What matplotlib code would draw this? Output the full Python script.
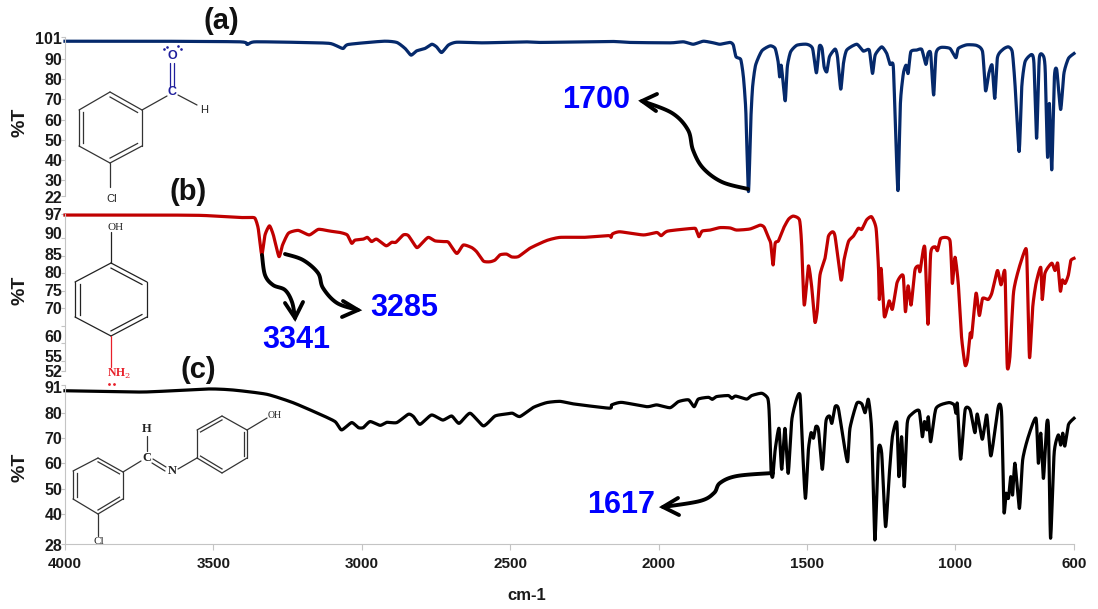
import numpy as np
import matplotlib
matplotlib.use('Agg')
import matplotlib.pyplot as plt

# Spectrum (a) 3-chlorobenzaldehyde
a_wn = [4000, 3700, 3410, 3386, 3360, 3208, 3107, 3064, 3045, 2927, 2882, 2854, 2834, 2815, 2787, 2764, 2748, 2731,
        2708, 2680, 2590, 2456, 2394, 2164, 2096, 1961, 1916, 1883, 1849, 1815, 1793, 1759, 1748, 1739, 1723, 1714,
        1706, 1697, 1689, 1683, 1673, 1652, 1624, 1607, 1597, 1592, 1587, 1582, 1573, 1566, 1555, 1534, 1501, 1481,
        1468, 1458, 1449, 1442, 1433, 1424, 1405, 1397, 1386, 1377, 1366, 1332, 1310, 1290, 1279, 1270, 1248, 1231,
        1220, 1209, 1201, 1193, 1185, 1175, 1166, 1159, 1150, 1130, 1113, 1099, 1092, 1083, 1073, 1065, 1049, 1018,
        998, 990, 962, 928, 908, 898, 887, 876, 867, 858, 838, 821, 808, 799, 785, 776, 765, 743, 735, 726, 717, 703,
        697, 689, 683, 675, 666, 658, 645, 634, 619, 600]
a_t = [98.9, 98.9, 98.6, 97.3, 98.6, 98.3, 97.8, 95.3, 97.3, 98.9, 98.3, 95.3, 92.0, 94.1, 95.3, 97.4, 96.1, 93.3,
       97.0, 98.4, 98.1, 98.6, 98.3, 98.8, 98.3, 98.1, 98.6, 97.4, 98.9, 98.1, 97.4, 98.3, 97.0, 91.2, 89.8, 81.2,
       64.7, 24.2, 59.8, 76.3, 87.0, 94.1, 96.6, 95.3, 88.7, 81.2, 87.0, 81.2, 69.3, 86.2, 93.6, 96.9, 97.4, 95.3,
       83.2, 96.4, 95.3, 86.2, 83.7, 91.2, 95.0, 91.2, 75.1, 87.8, 94.5, 97.4, 94.0, 94.5, 82.9, 92.0, 96.1, 92.8,
       87.4, 86.5, 53.2, 24.7, 68.0, 82.9, 87.0, 82.9, 93.6, 94.5, 94.8, 87.4, 92.8, 92.8, 72.2, 92.8, 95.8, 95.3,
       90.7, 95.3, 97.1, 96.8, 93.6, 74.3, 82.9, 87.0, 70.5, 90.8, 95.0, 96.1, 93.6, 78.0, 44.1, 76.3, 88.7, 92.3,
       87.9, 50.7, 90.3, 91.5, 84.6, 41.2, 68.0, 35.0, 81.2, 84.6, 65.0, 82.9, 90.3, 92.8]

# Spectrum (b) 4-aminophenol
b_wn = [4000, 3700, 3540, 3410, 3377, 3360, 3349, 3337, 3326, 3311, 3298, 3279, 3267, 3247, 3214, 3177, 3146, 3107,
        3073, 3049, 3034, 3023, 2995, 2981, 2967, 2950, 2918, 2899, 2885, 2860, 2843, 2815, 2798, 2776, 2753, 2725,
        2708, 2680, 2658, 2630, 2613, 2590, 2568, 2551, 2534, 2512, 2495, 2472, 2433, 2377, 2332, 2253, 2169, 2160,
        2155, 2130, 2051, 2006, 1991, 1969, 1883, 1874, 1864, 1853, 1826, 1793, 1759, 1737, 1692, 1658, 1644, 1630,
        1622, 1614, 1607, 1596, 1579, 1562, 1546, 1525, 1518, 1509, 1495, 1484, 1473, 1465, 1456, 1439, 1428, 1414,
        1405, 1385, 1375, 1360, 1343, 1327, 1315, 1299, 1282, 1267, 1259, 1256, 1250, 1239, 1223, 1212, 1197, 1184,
        1175, 1168, 1159, 1149, 1136, 1124, 1119, 1108, 1102, 1092, 1083, 1068, 1060, 1049, 1018, 1010, 1001, 990,
        979, 967, 959, 950, 945, 930, 919, 908, 889, 877, 858, 846, 836, 832, 825, 816, 804, 787, 765, 759, 750, 739,
        728, 712, 707, 698, 675, 664, 655, 646, 639, 630, 619, 611, 600]
b_t = [96.7, 96.7, 96.6, 96.0, 96.0, 95.8, 92.9, 85.3, 91.0, 93.6, 91.0, 84.8, 88.1, 91.5, 92.3, 91.0, 92.6, 92.1,
       91.7, 91.0, 88.6, 89.5, 89.8, 90.3, 89.1, 89.8, 87.9, 88.9, 88.9, 91.0, 90.8, 87.4, 88.6, 90.3, 89.3, 89.1,
       88.9, 85.7, 88.1, 87.4, 86.2, 83.5, 83.3, 83.8, 85.3, 85.5, 84.7, 84.8, 87.2, 89.4, 90.3, 90.3, 90.8, 90.3,
       91.3, 91.9, 91.0, 91.7, 90.8, 92.1, 92.9, 92.6, 90.5, 92.1, 92.4, 93.1, 93.0, 92.4, 92.7, 93.8, 93.2, 90.3,
       88.6, 82.4, 88.6, 89.3, 92.9, 95.5, 96.4, 95.3, 88.6, 70.9, 82.1, 76.2, 66.0, 69.5, 79.5, 84.3, 90.5, 91.9,
       90.5, 78.1, 83.8, 89.1, 90.7, 92.9, 92.6, 95.3, 96.2, 92.9, 81.9, 72.5, 81.4, 67.6, 72.1, 69.7, 77.1, 79.2,
       79.0, 69.0, 76.4, 70.9, 80.9, 82.1, 80.5, 86.7, 86.7, 65.4, 85.7, 87.6, 86.5, 90.0, 89.4, 77.1, 84.6, 77.1,
       61.8, 53.7, 55.2, 62.8, 61.8, 74.3, 67.9, 72.8, 72.5, 74.3, 80.8, 76.7, 80.5, 79.0, 53.4, 56.1, 74.3, 81.0,
       86.7, 84.8, 55.9, 70.4, 77.1, 81.7, 72.5, 80.0, 82.9, 80.8, 82.9, 74.9, 78.1, 77.1, 79.5, 83.6, 84.3]

# Spectrum (c) Schiff base
c_wn = [4000, 3737, 3522, 3434, 3320, 3232, 3141, 3090, 3068, 3034, 3012, 2995, 2972, 2938, 2916, 2882, 2843, 2826,
        2804, 2765, 2727, 2697, 2672, 2635, 2590, 2551, 2512, 2492, 2467, 2422, 2377, 2332, 2287, 2166, 2158, 2124,
        2040, 2006, 1961, 1933, 1899, 1880, 1866, 1832, 1819, 1804, 1765, 1753, 1740, 1703, 1686, 1652, 1632, 1627,
        1621, 1615, 1607, 1594, 1585, 1574, 1563, 1551, 1534, 1523, 1515, 1505, 1495, 1486, 1478, 1470, 1461, 1448,
        1436, 1424, 1416, 1405, 1394, 1377, 1363, 1355, 1332, 1315, 1304, 1293, 1282, 1271, 1259, 1248, 1235, 1223,
        1212, 1197, 1190, 1181, 1172, 1162, 1147, 1122, 1111, 1104, 1096, 1091, 1083, 1065, 1023, 1004, 998, 993, 982,
        967, 950, 934, 926, 909, 894, 880, 855, 844, 836, 829, 821, 813, 807, 799, 784, 773, 754, 728, 720, 712, 703,
        692, 686, 679, 667, 653, 645, 638, 631, 619, 600]
c_t = [88.8, 88.3, 89.5, 89.1, 87.4, 84.1, 79.5, 76.6, 73.3, 76.2, 74.2, 74.2, 76.6, 75.1, 76.3, 76.2, 79.5, 78.6,
       75.5, 79.2, 77.2, 78.8, 75.9, 79.9, 74.9, 78.8, 79.6, 79.9, 78.6, 82.2, 84.1, 84.6, 83.6, 81.9, 83.2, 84.2,
       82.5, 83.2, 82.1, 84.5, 85.2, 82.5, 85.5, 86.2, 85.4, 86.5, 86.9, 85.8, 86.7, 85.5, 86.9, 87.8, 85.8, 79.9,
       57.4, 54.8, 65.4, 73.9, 57.7, 73.9, 56.1, 77.2, 85.8, 86.9, 66.7, 46.2, 65.4, 72.2, 70.0, 74.6, 73.3, 57.7,
       76.6, 78.8, 75.9, 82.5, 81.8, 69.3, 60.7, 73.9, 83.8, 83.6, 80.1, 85.4, 73.3, 29.7, 65.4, 64.0, 35.0, 54.8,
       70.6, 76.2, 54.8, 70.6, 50.8, 75.9, 79.5, 80.9, 70.6, 76.6, 73.3, 78.5, 68.6, 81.8, 84.1, 83.2, 79.9, 83.6,
       61.7, 81.2, 81.2, 72.2, 79.6, 69.6, 79.2, 63.0, 82.5, 79.9, 41.0, 48.2, 46.2, 54.8, 47.5, 60.1, 42.2, 61.4,
       70.6, 77.9, 60.1, 72.0, 54.1, 75.6, 73.9, 30.4, 64.0, 71.3, 67.3, 72.0, 66.9, 75.3, 77.9]

x_ticks = [4000, 3500, 3000, 2500, 2000, 1500, 1000, 600]
a_ticks = [101, 90, 80, 70, 60, 50, 40, 30, 22]
b_ticks = [97, 90, 85, 80, 75, 70, 65, 60, 55, 52]
c_ticks = [91, 80, 70, 60, 50, 40, 28]
b_labels = ['97', '90', '85', '80', '75', '70', '', '60', '55', '52']

W, H = 1098, 609
GRAY = '#c4c4c4'
LABEL = 'Liberation Sans'

fig = plt.figure(figsize=(W / 100, H / 100), dpi=100)


def make_axes(top, bottom):
    return fig.add_axes([65 / W, 1 - bottom / H, 1009 / W, (bottom - top) / H])


def smooth(pts, k=0.5, n=14):
    # Hermite curve through the points, like a spreadsheet's smoothed line
    pts = np.array(pts, dtype=float)
    p = np.vstack([pts[0], pts, pts[-1]])
    out = []
    for i in range(1, len(p) - 2):
        m0 = k * (p[i + 1] - p[i - 1])
        m1 = k * (p[i + 2] - p[i])
        for t in np.linspace(0, 1, n):
            out.append((2 * t**3 - 3 * t**2 + 1) * p[i] + (t**3 - 2 * t**2 + t) * m0
                       + (-2 * t**3 + 3 * t**2) * p[i + 1] + (t**3 - t**2) * m1)
    return np.array(out)


def spectrum(ax, wn, t, color):
    xy = np.column_stack([wn, t])
    curve = smooth(xy, k=0.3)
    ax.plot(curve[:, 0], curve[:, 1], color=color, lw=2.3, clip_on=False, solid_joinstyle='round')


def style(ax, ticks, labels, nudges, show_x=False):
    ax.set_xlim(4000, 600)
    ax.set_ylim(ticks[-1], ticks[0])
    ax.patch.set_alpha(0)
    for s in ['top', 'right']:
        ax.spines[s].set_visible(False)
    ax.spines['left'].set_color(GRAY)
    ax.spines['bottom'].set_color(GRAY)
    ax.spines['bottom'].set_visible(show_x)
    ax.set_yticks(ticks)
    ax.set_yticklabels([])
    ax.tick_params(axis='y', length=3, width=0.8, color=GRAY)
    # some labels sit a few pixels off their ticks in the original
    for v, s, n in zip(ticks, labels, nudges):
        ax.annotate(s, (0, v), xycoords=ax.get_yaxis_transform(), xytext=(-2, -n * 0.72),
                    textcoords='offset points', ha='right', va='center_baseline', fontsize=11.5,
                    fontweight='bold', family=LABEL, color='#1a1a1a', annotation_clip=False)
    if show_x:
        ax.set_xticks(x_ticks)
        ax.set_xticklabels([str(t) for t in x_ticks], fontsize=11, fontweight='bold', family=LABEL, color='#1a1a1a')
        ax.tick_params(axis='x', length=4, width=0.8, color=GRAY, pad=5)
    else:
        ax.set_xticks([])


ax_a = make_axes(37, 196)
spectrum(ax_a, a_wn, a_t, '#05296b')
style(ax_a, a_ticks, [str(t) for t in a_ticks], [1, 0, 0, 0, 0, 0, 0, 0, 1])

ax_b = make_axes(214, 371)
spectrum(ax_b, b_wn, b_t, '#c00000')
style(ax_b, b_ticks, b_labels, [0, -5, -2, -1, -1, 0, 0, -7, -5, 0])

ax_c = make_axes(385.2, 544.3)
spectrum(ax_c, c_wn, c_t, 'black')
style(ax_c, c_ticks, [str(t) for t in c_ticks], [2, 0, 0, 0, 0, 0, 1], show_x=True)

# overlay in image pixels for structures, arrows and labels
ov = fig.add_axes([0, 0, 1, 1], zorder=5)
ov.set_xlim(0, W)
ov.set_ylim(H, 0)
ov.axis('off')


def arrow(pts, head1, head2):
    path = smooth(pts)
    ov.plot(path[:, 0], path[:, 1], color='black', lw=2.8, solid_capstyle='round')
    tip = pts[-1]
    ov.plot([head1[0], tip[0], head2[0]], [head1[1], tip[1], head2[1]], color='black', lw=2.8,
            solid_capstyle='round', solid_joinstyle='miter')


arrow([(748, 189), (722, 182), (703, 168), (693, 150), (688, 130), (672, 113), (642, 101)], (657, 94), (656, 111))
arrow([(262, 255), (265, 275), (273, 285), (285, 290), (292, 302), (295, 318)], (285, 303), (303, 302))
arrow([(285, 254), (303, 260), (318, 273), (323, 288), (337, 303), (358, 310)], (343, 301), (342, 317))
arrow([(773, 473), (737, 476), (720, 483), (714, 493), (700, 501), (663, 507)], (678, 498), (679, 515))


def ring(v, doubles, color='#333333'):
    v = np.array(v, dtype=float)
    c = v.mean(axis=0)
    for i in range(6):
        a, b = v[i], v[(i + 1) % 6]
        ov.plot([a[0], b[0]], [a[1], b[1]], color=color, lw=0.9, solid_capstyle='round')
        if i in doubles:
            a2 = c + (a - c) * 0.86
            b2 = c + (b - c) * 0.86
            ov.plot([a2[0], b2[0]], [a2[1], b2[1]], color=color, lw=0.9)


def bond(x0, y0, x1, y1, color='#333333'):
    ov.plot([x0, x1], [y0, y1], color=color, lw=0.9, solid_capstyle='round')


# structure (a)
ring([(110, 92), (142, 110), (142, 146), (110, 163), (79, 146), (79, 110)], [0, 2, 4])
bond(142, 110, 167, 96)
bond(178, 95, 197, 105)
bond(110, 163, 110, 187)
bond(170, 63, 170, 86, '#1f1f9c')
bond(174, 63, 174, 86, '#1f1f9c')
ov.text(172, 92, 'C', color='#1f1f9c', fontsize=9, fontweight='bold', family=LABEL, ha='center', va='center')
ov.text(172, 56, 'O', color='#1f1f9c', fontsize=9, fontweight='bold', family=LABEL, ha='center', va='center')
ov.text(204, 110, 'H', color='#222222', fontsize=8, family=LABEL, ha='center', va='center')
ov.text(112, 199, 'Cl', color='#222222', fontsize=8, family=LABEL, ha='center', va='center')
ov.plot([164, 167, 178, 181], [49, 47, 46, 49], ls='none', marker='.', ms=1.8, color='#1f1f9c')

# structure (b)
ring([(111, 263), (147, 282), (147, 317), (111, 336), (75, 317), (75, 282)], [0, 2, 4], '#222222')
bond(111, 232, 111, 263, '#222222')
bond(111, 336, 111, 367, '#e8202a')
ov.text(116, 227, 'OH', color='#222222', fontsize=8, family='Liberation Serif', ha='center', va='center')
ov.text(119, 374, 'NH$_2$', color='#e8202a', fontsize=8.5, family='Liberation Serif', fontweight='bold',
        ha='center', va='center', math_fontfamily='dejavuserif')
ov.plot([109, 114], [384, 384], ls='none', marker='.', ms=2, color='#e8202a')

# structure (c)
ring([(98, 458), (123, 472), (123, 499), (98, 514), (73, 499), (73, 471)], [0, 2, 4])
ring([(197, 458), (222, 473), (247, 458), (247, 430), (222, 416), (197, 430)], [0, 2, 4])
bond(123, 472, 141, 461)
bond(147, 436, 147, 451)
bond(153, 459, 166, 467)
bond(152, 463, 165, 471)
bond(178, 469, 197, 458)
bond(247, 430, 267, 418)
bond(98, 514, 98, 536)
ov.text(147, 458, 'C', color='#222222', fontsize=9, family='Liberation Serif', fontweight='bold', ha='center', va='center')
ov.text(147, 429, 'H', color='#222222', fontsize=9, family='Liberation Serif', fontweight='bold', ha='center', va='center')
ov.text(172, 471, 'N', color='#222222', fontsize=9, family='Liberation Serif', fontweight='bold', ha='center', va='center')
ov.text(275, 415, 'OH', color='#222222', fontsize=7, family='Liberation Serif', ha='center', va='center')
ov.text(99, 542, 'Cl', color='#222222', fontsize=8, family='Liberation Serif', ha='center', va='center')

for s, x, y in [('(a)', 221, 21), ('(b)', 188, 192), ('(c)', 198, 370)]:
    ov.text(x, y, s, fontsize=21, fontweight='bold', family=LABEL, ha='center', va='center', color='#111111')

for s, x, y in [('1700', 596, 100), ('3285', 404, 308), ('3341', 296, 340), ('1617', 621, 505)]:
    ov.text(x, y, s, fontsize=22, fontweight='bold', family=LABEL, ha='center', va='center', color='#0000ff')

for y in [122, 290, 467]:
    ov.text(20, y, '%T', fontsize=14, fontweight='bold', family=LABEL, rotation=90, ha='center', va='center', color='#1a1a1a')
ov.text(527, 595, 'cm-1', fontsize=12, fontweight='bold', family=LABEL, ha='center', va='center', color='#1a1a1a')

fig.savefig('out.png', dpi=100)
plt.close()
